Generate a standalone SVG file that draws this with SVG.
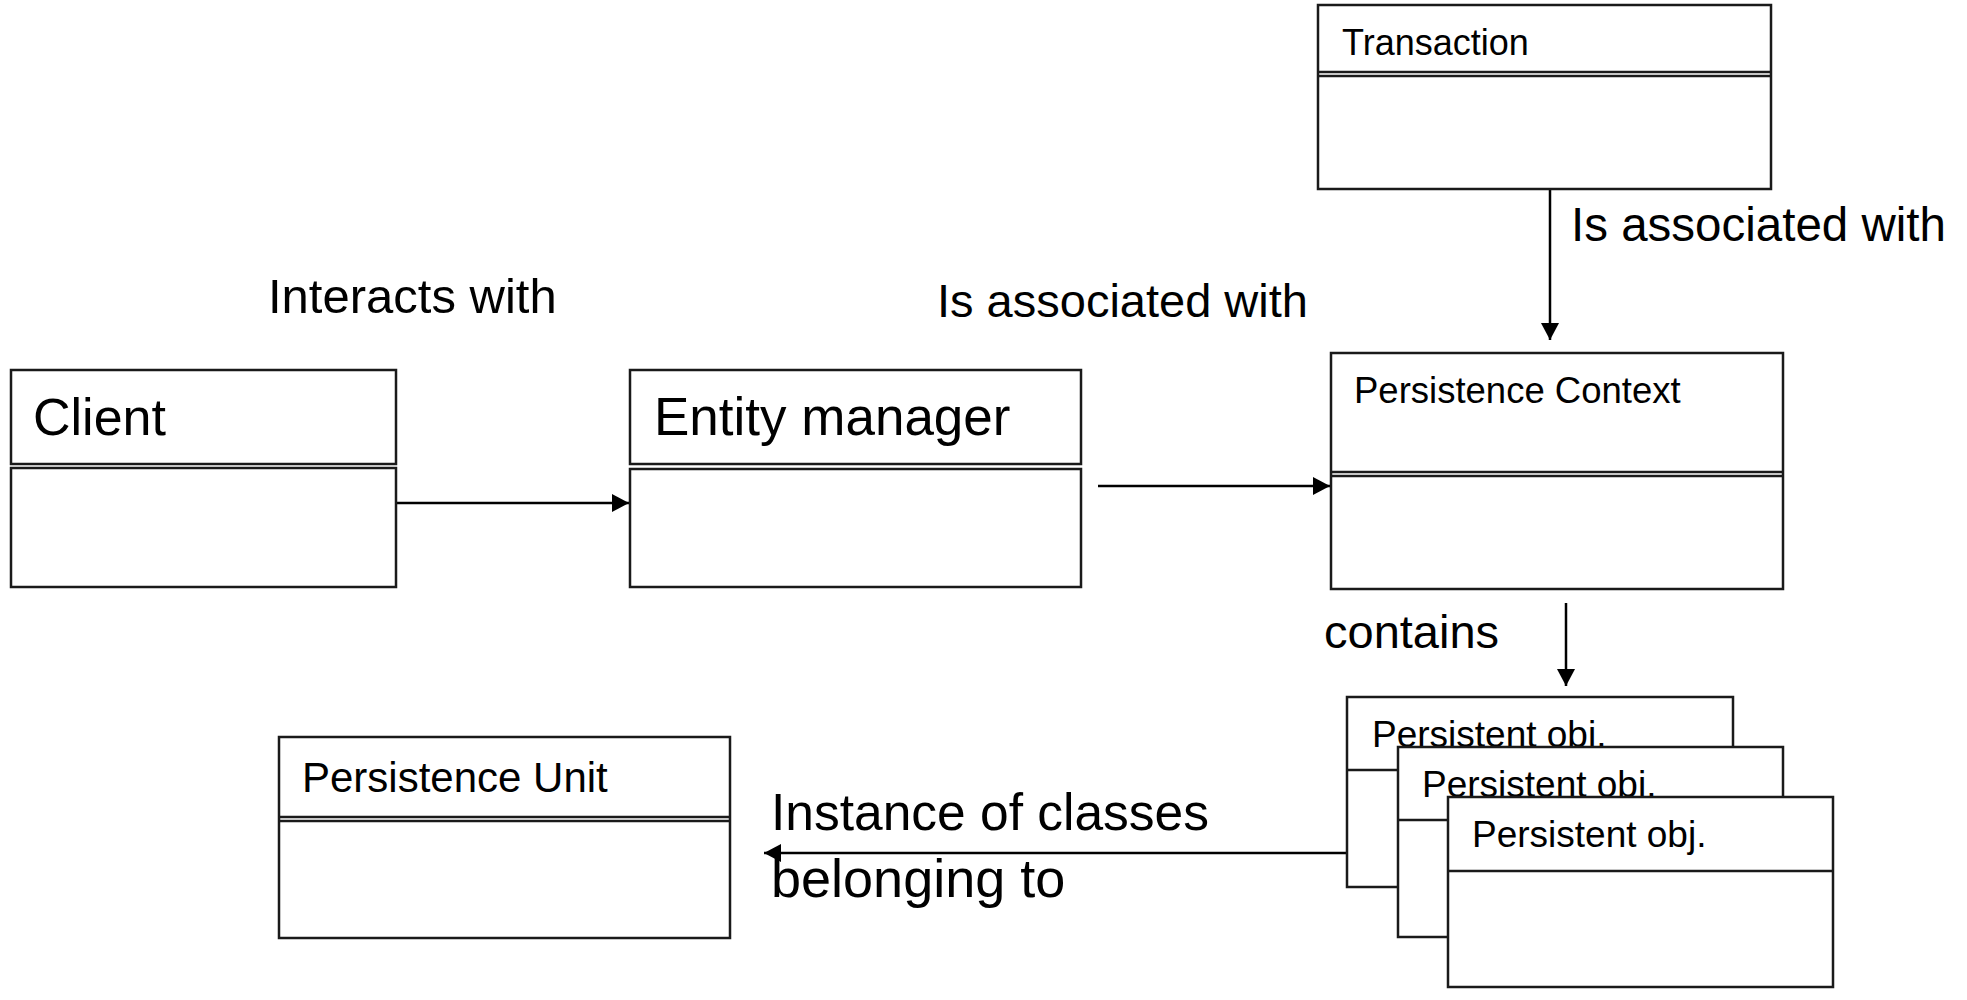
<svg xmlns="http://www.w3.org/2000/svg" width="1967" height="1000" viewBox="0 0 1967 1000">
  <style>
    .box { fill: #ffffff; stroke: #1a1a1a; stroke-width: 2.5; }
    .sep { stroke: #1a1a1a; stroke-width: 2.5; fill: none; }
    .conn { stroke: #000000; stroke-width: 2.5; fill: none; }
    text { font-family: "Liberation Sans", Arial, sans-serif; fill: #000000; }
  </style>
  <defs>
    <marker id="arrow" markerUnits="userSpaceOnUse" markerWidth="18" markerHeight="18" refX="17" refY="9" orient="auto">
      <path d="M0,0 L17,9 L0,18 Z" fill="#000000"/>
    </marker>
  </defs>
  <rect width="1967" height="1000" fill="#ffffff"/>

  <g id="connectors">
    <line class="conn" x1="396" y1="503" x2="629" y2="503" marker-end="url(#arrow)"/>
    <line class="conn" x1="1098" y1="486" x2="1330" y2="486" marker-end="url(#arrow)"/>
    <line class="conn" x1="1550" y1="189" x2="1550" y2="340" marker-end="url(#arrow)"/>
    <line class="conn" x1="1566" y1="603" x2="1566" y2="686" marker-end="url(#arrow)"/>
    <line class="conn" x1="1347" y1="853" x2="764" y2="853" marker-end="url(#arrow)"/>
  </g>

  <g id="labels">
    <text x="268" y="313" font-size="49">Interacts with</text>
    <text x="937" y="317" font-size="47">Is associated with</text>
    <text x="1571" y="241" font-size="47.5">Is associated with</text>
    <text x="1324" y="648" font-size="47">contains</text>
    <text x="771" y="830" font-size="51.5">Instance of classes</text>
    <text x="771" y="897" font-size="54">belonging to</text>
  </g>

  <g id="client">
    <rect class="box" x="11" y="370" width="385" height="94"/>
    <rect class="box" x="11" y="468" width="385" height="119"/>
    <text x="33" y="435" font-size="52">Client</text>
  </g>

  <g id="entity-manager">
    <rect class="box" x="630" y="370" width="451" height="94"/>
    <rect class="box" x="630" y="469" width="451" height="118"/>
    <text x="654" y="435" font-size="53">Entity manager</text>
  </g>

  <g id="transaction">
    <rect class="box" x="1318" y="5" width="453" height="184"/>
    <line class="sep" x1="1318" y1="72" x2="1771" y2="72"/>
    <line class="sep" x1="1318" y1="76" x2="1771" y2="76"/>
    <text x="1342" y="55" font-size="36">Transaction</text>
  </g>

  <g id="persistence-context">
    <rect class="box" x="1331" y="353" width="452" height="236"/>
    <line class="sep" x1="1331" y1="472" x2="1783" y2="472"/>
    <line class="sep" x1="1331" y1="476" x2="1783" y2="476"/>
    <text x="1354" y="403" font-size="36.5">Persistence Context</text>
  </g>

  <g id="persistent-obj-1">
    <rect class="box" x="1347" y="697" width="386" height="190"/>
    <line class="sep" x1="1347" y1="770" x2="1733" y2="770"/>
    <text x="1372" y="747" font-size="37">Persistent obj.</text>
  </g>

  <g id="persistent-obj-2">
    <rect class="box" x="1398" y="747" width="385" height="190"/>
    <line class="sep" x1="1398" y1="820" x2="1783" y2="820"/>
    <text x="1422" y="797" font-size="37">Persistent obj.</text>
  </g>

  <g id="persistent-obj-3">
    <rect class="box" x="1448" y="797" width="385" height="190"/>
    <line class="sep" x1="1448" y1="871" x2="1833" y2="871"/>
    <text x="1472" y="847" font-size="37">Persistent obj.</text>
  </g>

  <g id="persistence-unit">
    <rect class="box" x="279" y="737" width="451" height="201"/>
    <line class="sep" x1="279" y1="817" x2="730" y2="817"/>
    <line class="sep" x1="279" y1="821" x2="730" y2="821"/>
    <text x="302" y="792" font-size="42">Persistence Unit</text>
  </g>
</svg>
